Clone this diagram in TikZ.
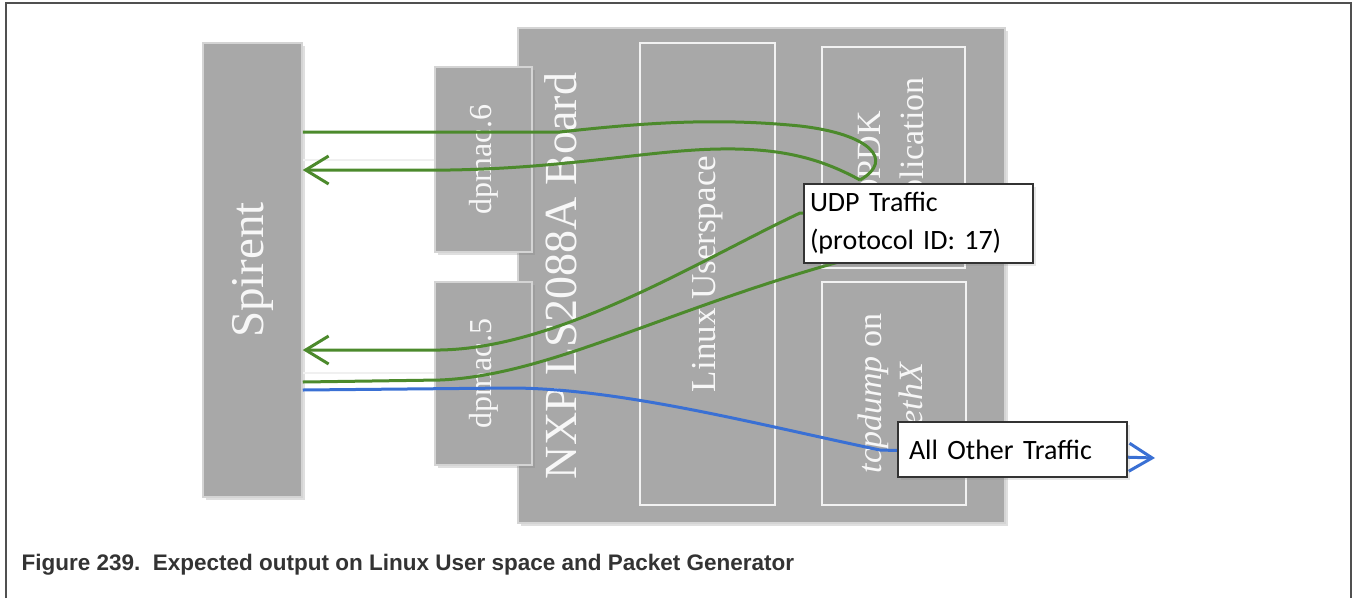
\documentclass[tikz,border=0pt]{standalone}
\usepackage{fontspec}
\setmainfont{Liberation Serif}
\newfontfamily\calloutfont{Carlito}
\newfontfamily\captionfont{Liberation Sans}
\usepackage{graphicx}
\usepackage{xcolor}
\usepackage{tikz}
\usetikzlibrary{positioning,arrows.meta,shadows,calc}

\definecolor{boxgray}{RGB}{168,168,168}
\definecolor{boxedge}{RGB}{212,212,212}
\definecolor{udpgreen}{RGB}{76,138,44}
\definecolor{otherblue}{RGB}{58,112,212}
\definecolor{framegray}{RGB}{80,80,80}

\tikzset{
  hwbox/.style={draw=boxedge, fill=boxgray, line width=1.5pt, inner sep=0pt,
    drop shadow={opacity=0.25, shadow xshift=3pt, shadow yshift=-3pt}},
  swbox/.style={draw=white!85!boxgray, line width=1.5pt, inner sep=0pt},
  vlabel/.style={text=white!94!gray, inner sep=0pt},
  callout/.style={draw=black!80, fill=white, line width=1.2pt, inner sep=6pt,
    text width=217pt, align=left, font=\calloutfont\fontsize{28}{38}\selectfont,
    drop shadow={opacity=0.2, shadow xshift=3pt, shadow yshift=-3pt}},
  udpline/.style={draw=udpgreen, line width=3pt},
  otherline/.style={draw=otherblue, line width=3pt},
  cable/.style={draw=white!88!gray, line width=2pt},
  barb/.style={-{Straight Barb[length=23pt,width=28pt]}}
}

\begin{document}
\begin{tikzpicture}[x=1pt,y=-1pt]
    \useasboundingbox (0,0) rectangle (1354,598);
    % frame
    \draw[framegray, line width=2pt] (6,598) -- (6,3) -- (1351,3) -- (1351,598);

    % traffic generator
    \node[hwbox, vlabel, minimum width=99pt, minimum height=454pt,
          font=\fontsize{47}{54}\selectfont] (spirent) at (252.5,270) {\rotatebox{90}{Spirent}};

    % board and its ports
    \node[hwbox, minimum width=487pt, minimum height=495pt] (board) at (761.5,275.5) {};
    \node[hwbox, vlabel, minimum width=97pt, minimum height=185pt,
          font=\fontsize{32}{38}\selectfont] (dp6) at (483.5,159.5) {\rotatebox{90}{dpmac.6}};
    \node[hwbox, vlabel, minimum width=97pt, minimum height=183pt,
          font=\fontsize{32}{38}\selectfont] (dp5) at (483.5,373.5) {\rotatebox{90}{dpmac.5}};
    \node[vlabel, font=\fontsize{46}{52}\selectfont] (boardtxt) at (561,276) {\rotatebox{90}{NXP LS2088A Board}};

    % software on the board
    \node[swbox, vlabel, minimum width=135pt, minimum height=462pt,
          font=\fontsize{35}{42}\selectfont] (linux) at (707.5,274) {\rotatebox{90}{Linux Userspace}};
    \node[swbox, vlabel, minimum width=143pt, minimum height=221pt,
          font=\fontsize{34}{43}\selectfont] (dpdk) at (893.5,157.5)
          {\rotatebox{90}{\begin{tabular}{@{}c@{}}DPDK\\Application\end{tabular}}};
    \node[swbox, vlabel, minimum width=144pt, minimum height=223pt,
          font=\fontsize{34}{41}\selectfont] (tcpd) at (894,393.5)
          {\rotatebox{90}{\begin{tabular}{@{}c@{}}\textit{tcpdump} on\\\textit{ethX}\end{tabular}}};

    % cables
    \draw[cable] (spirent.east |- 0,160) -- (dp6.west |- 0,160);
    \draw[cable] (spirent.east |- 0,373) -- (dp5.west |- 0,373);

    % udp traffic
    \coordinate (turn) at (860,180);
    \draw[udpline] (spirent.east |- 0,132) -- (560,132)
        .. controls (650,122) and (720,118) .. (800,126)
        .. controls (870,134) and (895,160) .. (turn);
    \draw[udpline, barb] (turn) .. controls (820,158) and (780,148) .. (720,149)
        .. controls (650,150) and (570,168) .. (450,170) -- (spirent.east |- 0,170);
    \draw[udpline, barb] (905,213) -- (800,213)
        .. controls (700,260) and (560,348) .. (440,350) -- (spirent.east |- 0,350);
    \draw[udpline] (spirent.east |- 0,382) -- (440,380)
        .. controls (560,375) and (690,295) .. (905,245);

    % everything else
    \coordinate (otherend) at (1155,458);
    \draw[otherline, barb] (spirent.east |- 0,390) -- (510,388)
        .. controls (620,388) and (760,425) .. (880,450) -- (otherend);

    % callouts
    \node[callout, minimum height=79pt] (udp) at (918.5,223.5) {UDP Traffic\\(protocol ID: 17)};
    \node[callout, minimum height=55pt] (other) at (1012.5,449.5) {\hspace*{5pt}All Other Traffic};

    % caption
    \node[anchor=west, text=black!80, font=\captionfont\bfseries\fontsize{22.5}{27}\selectfont]
        (caption) at (18,565) {Figure 239.\ \ Expected output on Linux User space and Packet Generator};
\end{tikzpicture}
\end{document}
